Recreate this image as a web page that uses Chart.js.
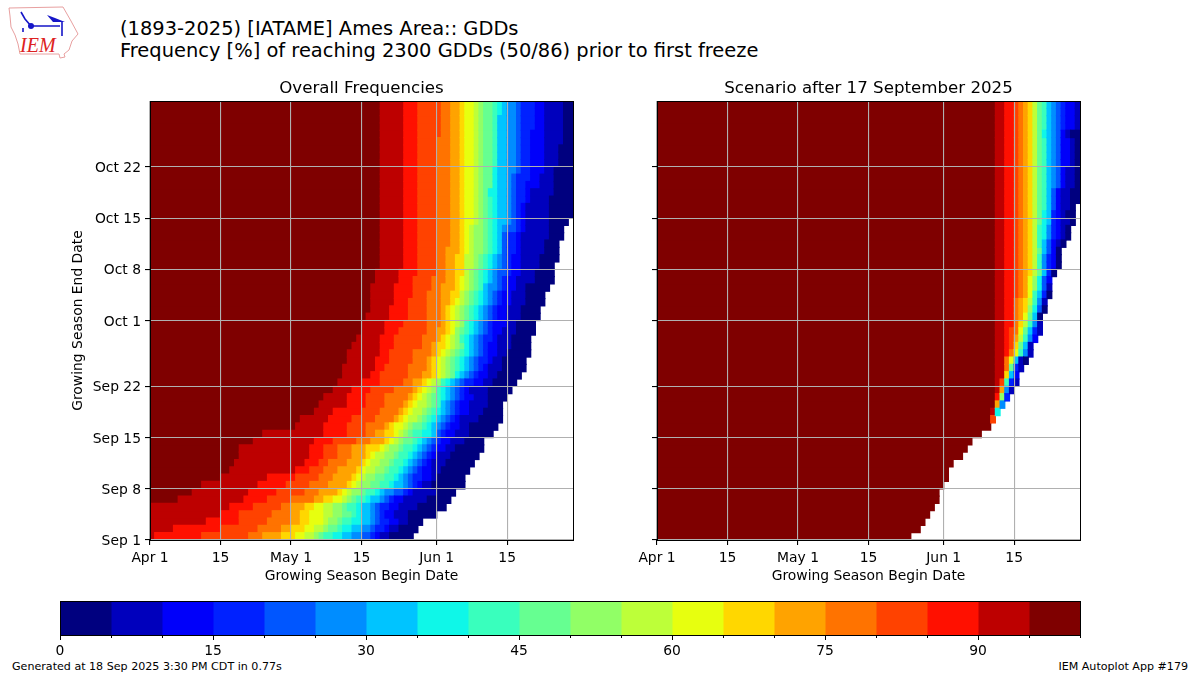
<!DOCTYPE html>
<html>
<head>
<meta charset="utf-8">
<script src="https://cdn.jsdelivr.net/npm/chart.js@4"></script>
<style>
html,body{margin:0;padding:0;background:#fff;width:1200px;height:675px;overflow:hidden;font-family:"DejaVu Sans",sans-serif;color:#000}
canvas{position:absolute}
.t{position:absolute;white-space:pre;line-height:1}
</style>
</head>
<body>
<svg style="position:absolute;left:0;top:0" width="90" height="62" viewBox="0 0 90 62">
<path d="M9 8 L63 7 L67 14 L71 21 L78 34 L72 41 L69 50 L64 54 L65 57 L60 58 L59 54 L20 54 L18 44 L15 35 L11 27 L10 16 Z" fill="#fff" stroke="#e8a0a0" stroke-width="1"/>
<path d="M31 26 L60 26 M62 22 L62 36 M21 12 L25 19 L31 26 M23 28 L23 32" stroke="#1616c8" stroke-width="1.6" fill="none"/>
<circle cx="31" cy="26" r="3" fill="#1616c8"/>
<path d="M47 15 L55 18 L65 22 L53 22 Z" fill="#1616c8"/>
<text x="20" y="52" font-family="Liberation Serif" font-style="italic" font-size="20" fill="#d22">IEM</text>
</svg>
<div class="t" style="left:120px;top:19px;font-size:19.44px">(1893-2025) [IATAME] Ames Area:: GDDs</div>
<div class="t" style="left:120px;top:41px;font-size:19.44px">Frequency [%] of reaching 2300 GDDs (50/86) prior to first freeze</div>
<canvas id="left" style="left:60px;top:70px" width="520" height="520"></canvas>
<canvas id="right" style="left:600px;top:70px" width="487" height="520"></canvas>
<canvas id="bar" style="left:30px;top:590px" width="1080" height="70"></canvas>
<div class="t" style="left:12px;top:661px;font-size:11.1px">Generated at 18 Sep 2025 3:30 PM CDT in 0.77s</div>
<div class="t" style="right:12px;top:661px;font-size:11.1px">IEM Autoplot App #179</div>
<script>
// Jet colours, one per 5% frequency bin, low to high
const bandColors = ['#00007f','#0000bd','#0000fa','#0021ff','#0056ff','#008dff','#00c4ff','#0ff7e8','#39ffbd','#66ff91','#91ff66','#bdff39','#e7ff0f','#ffd700','#ffa300','#ff7300','#ff4200','#ff1000','#bd0000','#7f0000'];
const beginTickDays = [0,15,30,45,61,76];
const beginTickLabels = ['Apr 1','15','May 1','15','Jun 1','15'];
const endTickDays = [0,7,14,21,30,37,44,51];
const endTickLabels = ['Sep 1','Sep 8','Sep 15','Sep 22','Oct 1','Oct 8','Oct 15','Oct 22'];
const colorbarLabels = [0,15,30,45,60,75,90];

// Overall: per end-date row (Sep 1 upward), first begin-day of bins 95,90,...,0, then last begin-day
const overallEdges = [
[0,0,1,11,21,24,28,31,33,35,36,37,39,41,43,45,47,48,49,51,56],
[0,0,5,15,23,28,30,33,35,37,38,40,41,43,45,47,48,50,51,53,57],
[0,0,12,19,25,30,32,34,37,38,40,41,43,45,47,48,49,51,53,55,58],
[0,0,15,19,26,30,32,34,37,39,41,43,44,45,47,48,49,50,52,55,61],
[0,0,17,22,28,30,33,35,37,39,41,42,44,45,47,48,49,51,53,57,63],
[0,6,20,25,30,35,37,39,41,42,43,44,46,47,49,50,51,52,54,59,64],
[0,9,21,27,33,36,40,41,42,43,45,46,48,49,50,52,54,55,56,61,65],
[0,11,23,29,34,38,42,43,44,45,47,49,51,52,54,55,56,57,58,60,67],
[0,15,25,31,36,39,43,44,45,46,48,50,52,53,54,55,56,58,60,61,67],
[0,17,31,34,37,40,44,45,46,48,50,51,53,54,55,56,57,58,60,62,68],
[0,18,33,36,38,42,45,46,47,49,51,52,54,55,56,57,58,59,60,63,69],
[0,19,34,37,40,43,46,47,48,50,52,53,55,56,57,58,59,60,61,64,70],
[0,19,34,37,40,43,46,49,50,51,53,54,56,57,58,59,60,61,63,65,71],
[0,22,35,39,44,47,50,51,52,53,54,56,57,58,59,60,61,62,64,67,71],
[0,24,37,42,46,48,50,52,53,54,55,56,58,60,61,61,62,63,65,68,73],
[0,31,37,42,46,50,51,52,54,55,56,58,59,60,61,62,63,64,66,68,74],
[0,32,38,43,48,52,53,54,55,57,58,59,60,61,62,63,64,65,66,70,75],
[0,35,39,45,49,53,54,55,56,58,59,60,61,62,63,64,65,66,68,71,75],
[0,36,42,46,50,54,55,56,57,59,60,61,62,62,63,64,65,66,68,72,75],
[0,37,42,46,50,55,56,57,58,59,60,61,62,63,64,65,66,67,69,72,76],
[0,39,43,47,52,56,57,58,59,60,61,61,62,63,64,65,66,67,68,72,77],
[0,40,45,49,54,56,58,59,60,61,62,62,63,64,65,66,67,69,71,73,78],
[0,41,47,49,55,58,60,61,62,63,64,65,65,66,67,68,69,70,72,74,79],
[0,41,48,50,55,59,60,61,62,63,64,65,66,67,68,69,70,71,72,75,80],
[0,42,48,51,56,59,60,61,62,63,64,65,66,67,68,69,70,72,73,75,80],
[0,42,49,51,56,60,61,62,63,64,65,66,67,68,69,70,71,72,74,76,81],
[0,43,49,52,58,60,61,63,64,65,66,67,67,68,69,70,71,72,74,77,81],
[0,44,49,52,58,61,62,63,64,65,66,66,67,68,69,70,71,73,74,77,81],
[0,45,50,53,59,61,63,64,65,65,66,67,68,69,70,71,72,73,75,78,82],
[0,45,50,54,59,62,63,64,65,66,67,67,68,69,70,71,72,73,76,78,82],
[0,46,51,55,59,62,63,64,65,66,67,68,69,70,71,72,73,74,76,79,83],
[0,47,51,55,59,62,63,64,65,66,67,68,69,70,71,72,73,74,76,79,83],
[0,47,52,55,59,62,64,65,66,67,68,69,70,71,72,73,74,75,77,80,84],
[0,47,52,56,59,62,64,66,66,67,68,69,70,71,72,73,74,75,77,80,84],
[0,47,52,56,60,62,65,66,67,68,69,70,71,71,72,74,75,76,78,80,85],
[0,48,53,56,60,63,65,66,67,68,69,70,71,72,73,74,75,76,78,82,86],
[0,48,53,57,61,63,65,67,67,68,69,70,71,72,73,74,76,77,79,82,86],
[0,49,54,57,61,63,65,67,67,69,70,71,72,73,74,75,76,77,79,83,86],
[0,49,54,57,61,63,65,67,67,69,70,71,72,73,74,75,76,77,79,83,87],
[0,49,54,57,61,63,66,67,68,69,71,72,73,74,75,75,76,78,79,84,87],
[0,49,54,57,61,64,66,67,68,69,71,72,73,74,75,75,76,78,79,84,87],
[0,49,54,57,61,64,66,67,68,69,71,72,73,74,75,75,76,78,79,85,88],
[0,49,54,57,61,64,66,67,68,69,71,72,73,74,75,76,78,79,80,85,88],
[0,49,54,57,61,64,66,67,69,70,71,72,73,74,76,77,78,79,80,85,89],
[0,49,54,57,61,64,66,67,69,70,71,72,73,74,76,77,78,79,80,85,90],
[0,49,54,57,61,64,66,67,69,70,71,72,73,74,76,77,78,79,80,85,90],
[0,49,54,57,61,64,66,67,69,70,71,72,73,74,76,77,78,80,81,85,90],
[0,49,54,57,61,64,66,67,69,70,71,72,72,74,76,77,78,80,81,86,90],
[0,49,54,57,61,64,66,67,69,70,71,73,73,74,76,77,78,80,83,86,90],
[0,49,54,57,61,64,66,67,69,70,71,73,73,74,76,77,78,81,83,86,90],
[0,49,54,57,61,64,66,67,69,70,71,73,73,74,76,78,79,81,84,86,90],
[0,49,54,57,61,64,66,67,69,70,71,73,74,74,76,78,79,81,84,87,90],
[0,49,54,57,61,64,66,67,69,70,71,73,74,74,76,78,79,81,84,87,90],
[0,49,54,57,61,64,66,67,69,70,71,73,74,74,76,78,79,81,84,87,90],
[0,49,54,57,61,64,66,67,69,70,71,73,74,74,76,78,79,81,84,88,90],
[0,49,54,57,62,64,66,67,69,70,71,73,74,74,76,78,79,81,84,88,90],
[0,49,54,57,62,64,66,67,69,70,71,73,74,74,76,78,79,82,84,88,90],
[0,49,54,57,62,64,66,67,69,70,71,73,74,74,76,78,79,82,84,88,90],
[0,49,54,57,62,64,66,67,69,70,71,73,74,75,76,78,79,82,84,88,90],
[0,49,54,57,62,64,66,67,69,70,71,73,74,75,76,78,79,82,84,88,90]
];

// Scenario: per row, alternating begin-day and bin index, closed by the last begin-day
const scenarioRuns = [
[0,19,54],[0,19,56],[0,19,57],[0,19,58],[0,19,59],[0,19,60],[0,19,60],[0,19,61],[0,19,62],[0,19,62],
[0,19,63],[0,19,65],[0,19,66],[0,19,67],[0,19,69],[0,19,71],
[0,19,71,16,72],
[0,19,71,18,72,7,73],
[0,19,72,14,73,5,74],
[0,19,72,17,73,10,74,3,75],
[0,19,72,18,73,14,74,5,75,1,76],
[0,19,72,18,73,16,74,8,75,3,76,1,77],
[0,19,72,18,74,13,75,6,76,2,77],
[0,19,72,18,74,15,75,9,76,3,77,1,78],
[0,19,72,18,74,15,75,12,76,6,77,1,78,0,79],
[0,19,72,18,74,17,75,15,76,12,77,8,78,5,79,1,80],
[0,19,72,18,74,17,75,16,76,13,77,9,78,6,79,1,80],
[0,19,72,18,74,17,75,16,76,14,77,11,78,8,79,5,80,2,81],
[0,19,72,18,74,17,75,16,76,15,77,12,78,9,79,6,80,3,81,1,82],
[0,19,72,18,74,17,76,15,77,13,78,11,79,8,80,5,81,1,82],
[0,19,72,18,74,17,76,15,77,14,78,12,79,9,80,6,81,0,82],
[0,19,72,18,74,17,76,15,77,14,78,13,79,10,80,7,81,4,82,0,83],
[0,19,72,18,74,17,76,15,77,14,78,13,79,11,80,8,81,5,82,1,83],
[0,19,72,18,74,17,76,16,77,15,78,14,79,12,80,8,81,6,82,3,83,0,84],
[0,19,72,18,74,17,76,16,77,15,78,14,79,12,80,10,81,7,82,4,83,1,84],
[0,19,72,18,74,17,76,16,77,15,78,14,79,12,80,10,81,7,82,4,83,2,84],
[0,19,72,18,74,17,76,16,77,15,78,14,79,13,80,11,81,9,82,6,83,3,84,0,85],
[0,19,72,18,74,17,76,16,77,15,78,14,79,13,80,11,81,8,82,5,83,3,84,2,85,0,86],
[0,19,72,18,74,17,76,16,77,15,78,14,79,13,80,11,81,8,82,5,83,3,84,2,85,0,86],
[0,19,72,18,74,17,76,16,77,15,78,14,79,13,80,11,81,9,82,6,83,4,84,2,85,0,86],
[0,19,72,18,74,17,76,16,77,15,78,14,79,13,80,11,81,8,82,6,83,4,84,2,85,1,86,0,87],
[0,19,72,18,74,17,76,16,77,15,78,14,79,13,80,11,81,8,82,7,83,5,84,3,85,2,86,1,87,0,88],
[0,19,72,18,74,17,76,16,77,15,78,14,79,13,80,11,81,8,82,7,83,5,84,3,85,2,86,1,87,0,88],
[0,19,72,18,74,17,76,16,77,15,78,14,79,13,80,11,81,9,82,7,83,6,84,3,85,2,86,1,88,0,89],
[0,19,72,18,74,17,76,16,77,15,78,14,79,13,80,11,81,9,82,7,83,6,84,3,85,2,86,1,87,0,89],
[0,19,72,18,74,17,76,16,77,15,78,14,79,13,80,11,81,9,82,8,83,6,84,4,85,2,86,1,88,0,89],
[0,19,72,18,74,17,76,16,77,15,78,14,79,13,80,11,81,9,82,8,83,6,84,4,85,2,86,1,88,0,90],
[0,19,72,18,74,17,76,16,77,15,78,14,79,13,80,11,81,9,82,8,83,6,84,4,85,2,86,1,88,0,90],
[0,19,72,18,74,17,76,16,77,15,78,14,79,13,80,11,81,9,82,8,83,6,84,5,85,4,86,2,87,1,89,0,90],
[0,19,72,18,74,17,76,16,77,15,78,14,79,13,80,11,81,9,82,8,83,6,84,5,85,4,86,2,87,1,89,0,90],
[0,19,72,18,74,17,76,16,77,15,78,14,79,13,80,11,81,9,82,8,83,6,84,5,85,4,86,2,87,1,89,0,90],
[0,19,72,18,74,17,76,16,77,15,78,14,79,13,80,11,81,9,82,8,83,6,84,5,85,4,86,2,88,1,89,0,90],
[0,19,72,18,74,17,76,16,77,15,78,14,79,13,80,11,81,9,82,8,83,6,84,5,85,4,86,2,88,1,89,0,90],
[0,19,72,18,74,17,76,16,77,15,78,14,79,13,80,11,81,9,82,8,83,6,84,5,85,4,86,2,88,1,89,0,90],
[0,19,72,18,74,17,76,16,77,15,78,14,79,13,80,11,81,9,82,8,83,6,84,5,85,4,86,2,88,1,89,0,90],
[0,19,72,18,74,17,76,16,77,15,78,14,79,13,80,11,81,9,82,7,83,6,84,5,85,4,86,2,87,1,88,0,90],
[0,19,72,18,74,17,76,16,77,15,78,14,79,13,80,11,81,9,82,8,83,6,84,5,85,4,86,3,87,2,89,1,90],
[0,19,72,18,74,17,76,16,77,15,78,14,79,13,80,11,81,9,82,8,83,6,84,5,85,4,86,3,87,2,89,1,90],
[0,19,72,18,74,17,76,16,77,15,78,14,79,13,80,11,81,9,82,8,83,6,84,5,85,4,86,3,87,2,89,1,90],
[0,19,72,18,74,17,76,16,77,15,78,14,79,13,80,11,81,9,82,8,83,6,84,5,85,4,86,3,87,2,89,1,90]
];

const bandCount = bandColors.length;

function overallBars(band){
  const k = bandCount - 1 - band, out = [];
  overallEdges.forEach((e,r)=>{ if(e[k+1] > e[k]) out.push({x:[e[k],e[k+1]], y:r+0.5}); });
  return out;
}
function scenarioBars(band){
  const out = [];
  scenarioRuns.forEach((run,r)=>{
    for(let i=0;i+2<run.length;i+=2){
      if(run[i+1]===band && run[i+2]>run[i]) out.push({x:[run[i],run[i+2]], y:r+0.5});
    }
  });
  return out;
}

const framePlugin = {
  id:'frame',
  afterDraw(c){
    const a=c.chartArea, g=c.ctx;
    g.save(); g.strokeStyle='#000'; g.lineWidth=1;
    g.strokeRect(Math.round(a.left)+0.5,Math.round(a.top)+0.5,Math.round(a.right-a.left),Math.round(a.bottom-a.top));
    g.restore();
  }
};

const FONT = 'DejaVu Sans';
function panel(id,title,barsFor,showY,yWidth,rightPad){
  const datasets=[];
  for(let b=0;b<bandCount;b++){
    datasets.push({data:barsFor(b),backgroundColor:bandColors[b],borderWidth:0,inflateAmount:0.6,
      barPercentage:1,categoryPercentage:1,grouped:false});
  }
  new Chart(document.getElementById(id),{
    type:'bar',
    data:{datasets},
    options:{
      indexAxis:'y',responsive:false,animation:false,devicePixelRatio:1,
      layout:{padding:{left:0,right:rightPad,top:0,bottom:0}},
      plugins:{legend:{display:false},tooltip:{enabled:false},
        title:{display:true,fullSize:false,text:title,color:'#000',font:{family:FONT,size:16.67,weight:'normal',lineHeight:1.2},padding:{top:9,bottom:2}}},
      scales:{
        x:{type:'linear',min:0,max:90,
          grid:{color:'#b0b0b0',lineWidth:1.1,z:1,tickColor:'#000',tickLength:5},
          border:{display:false},
          ticks:{color:'#000',font:{family:FONT,size:13.89},padding:5,autoSkip:false,maxRotation:0,
            callback:(v,i)=>beginTickLabels[i]},
          afterBuildTicks:s=>{s.ticks=beginTickDays.map(v=>({value:v}));},
          title:{display:true,text:'Growing Season Begin Date',color:'#000',font:{family:FONT,size:13.89},padding:{top:2,bottom:5}},
          afterFit:s=>{s.height=50;}
        },
        y:{type:'linear',min:0,max:60,offset:false,
          grid:{offset:false,color:'#b0b0b0',lineWidth:1.1,z:1,tickColor:'#000',tickLength:5},
          border:{display:false},
          ticks:{color:'#000',font:{family:FONT,size:13.89},padding:4,labelOffset:1.5,autoSkip:false,
            callback:(v,i)=>showY?endTickLabels[i]:''},
          afterBuildTicks:s=>{s.ticks=endTickDays.map(v=>({value:v}));},
          title:{display:showY,text:'Growing Season End Date',color:'#000',font:{family:FONT,size:13.89},padding:{top:10,bottom:0}},
          afterFit:s=>{s.width=yWidth;}
        }
      }
    },
    plugins:[framePlugin]
  });
}
panel('left','Overall Frequencies',overallBars,true,90,7);
panel('right','Scenario after 17 September 2025',scenarioBars,false,57,7);

const colorbarTicks = {
  id:'cbticks',
  afterDraw(c){
    const s=c.scales.x,g=c.ctx,y=c.chartArea.bottom;
    g.save();g.strokeStyle='#000';g.lineWidth=1;
    for(let v=0;v<=100;v+=5){
      const len = colorbarLabels.includes(v)?5:3, px=Math.round(s.getPixelForValue(v))+0.5;
      g.beginPath();g.moveTo(px,y);g.lineTo(px,y+len);g.stroke();
    }
    g.restore();
  }
};
new Chart(document.getElementById('bar'),{
  type:'bar',
  data:{labels:[''],datasets:bandColors.map((col,b)=>({data:[[b*5,(b+1)*5]],backgroundColor:col,borderWidth:0,inflateAmount:0.5,barPercentage:1,categoryPercentage:1,grouped:false}))},
  options:{
    indexAxis:'y',responsive:false,animation:false,devicePixelRatio:1,
    layout:{padding:{left:30,right:30,top:11,bottom:0}},
    plugins:{legend:{display:false},tooltip:{enabled:false}},
    scales:{
      y:{display:false},
      x:{type:'linear',min:0,max:100,
        grid:{display:false,drawTicks:false},border:{display:false},
        ticks:{stepSize:5,color:'#000',font:{family:FONT,size:13.89},padding:8,autoSkip:false,maxRotation:0,
          callback:v=>colorbarLabels.includes(v)?String(v):''},
        afterFit:s=>{s.height=25;}
      }
    }
  },
  plugins:[framePlugin,colorbarTicks]
});
</script>
</body>
</html>
